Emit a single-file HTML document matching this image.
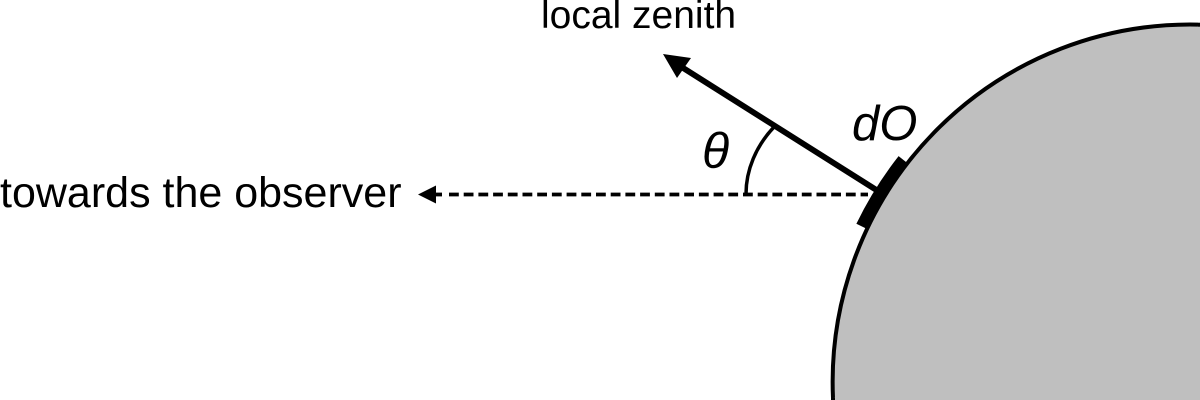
<!DOCTYPE html>
<html><head><meta charset="utf-8"><style>html,body{margin:0;padding:0;background:#fff;overflow:hidden;width:1200px;height:400px}svg{display:block}text{font-family:"Liberation Sans",sans-serif;fill:#000}</style></head>
<body><svg width="1200" height="400" viewBox="0 0 1200 400" xmlns="http://www.w3.org/2000/svg">
<path d="M833 398 A357.5 357.5 0 0 1 1198 24.6 L1198 398 Z" fill="#bfbfbf" transform="translate(0 0)"/>
<rect x="834" y="396" width="366" height="4" fill="#bfbfbf"/>
<rect x="1196" y="26" width="4" height="374" fill="#bfbfbf"/>
<path d="M833 398 A357.5 357.5 0 0 1 1198 24.6" fill="none" stroke="#000" stroke-width="4"/>
<rect x="1198" y="22.7" width="2" height="4" fill="#000"/>
<rect x="831" y="398" width="4" height="2" fill="#000"/>
<path d="M903.5 160 A363 363 0 0 0 862 226.5" fill="none" stroke="#000" stroke-width="12.5"/>
<line x1="878" y1="191" x2="680" y2="66" stroke="#000" stroke-width="5.8"/>
<polygon points="663,54 691,58 677,78" fill="#000"/>
<line x1="449" y1="194.5" x2="868" y2="194.5" stroke="#000" stroke-width="3.8" stroke-dasharray="9.8 4.9"/>
<line x1="434" y1="194.5" x2="442" y2="194.5" stroke="#000" stroke-width="3.8"/>
<polygon points="418,194.5 436,185.5 436,203.5" fill="#000"/>
<path d="M746 194 C746 170 756 146 774 127" fill="none" stroke="#000" stroke-width="3.5"/>
<text x="541" y="28" font-size="39">local zenith</text>
<text x="0" y="207" font-size="43">towards the observer</text>
<text x="852" y="140" font-size="49" font-style="italic">dO</text>
<text x="702" y="168" font-size="50" font-style="italic">θ</text>
</svg></body></html>
